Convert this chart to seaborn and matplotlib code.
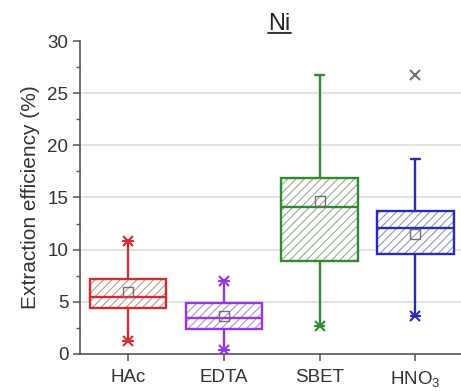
import numpy as np
import pandas as pd
import matplotlib
matplotlib.use("Agg")
import matplotlib.pyplot as plt
from matplotlib.colors import to_rgb
from matplotlib.patches import PathPatch
from matplotlib.lines import Line2D
import seaborn as sns

# Datos (eficiencia de extracción de Ni, %)
grupos = ["HAc", "EDTA", "SBET", "HNO3"]
etiquetas = ["HAc", "EDTA", "SBET", "HNO$_3$"]
colores = ["#d92b2f", "#9a33e6", "#2e8b2e", "#2a2ab8"]

# resumen de cinco números: bigote inf., Q1, mediana, Q3, bigote sup.
resumen_hac = [1.2, 4.4, 5.5, 7.2, 10.8]
resumen_edta = [0.4, 2.4, 3.45, 4.9, 6.95]
resumen_sbet = [2.7, 8.95, 14.1, 16.85, 26.75]
resumen_hno3 = [3.6, 9.6, 12.05, 13.7, 18.65]
medias = [5.9, 3.6, 14.65, 11.5]

# marcas "x" (1% / 99%) en cada grupo
extremos = {"HAc": [1.2, 10.8], "EDTA": [0.4, 6.95], "SBET": [2.7], "HNO3": [3.6]}
atipico_hno3 = [26.7]

df = pd.DataFrame({
    "grupo": np.repeat(grupos, 5),
    "valor": resumen_hac + resumen_edta + resumen_sbet + resumen_hno3,
})

sns.set_style("white")
plt.rcParams["font.family"] = ["Liberation Sans", "DejaVu Sans"]
plt.rcParams["mathtext.fontset"] = "custom"
plt.rcParams["mathtext.rm"] = "Liberation Sans"
plt.rcParams["mathtext.it"] = "Liberation Sans:italic"
plt.rcParams["hatch.linewidth"] = 0.7

fig = plt.figure(figsize=(4.61, 3.91), dpi=100)
ax = fig.add_axes([0.174, 0.095, 0.831, 0.80])

for g, c in zip(grupos, colores):
    sns.boxplot(data=df[df["grupo"] == g], x="grupo", y="valor", order=grupos,
                color="white", linecolor=c, linewidth=1.7, width=0.8,
                whis=(0, 100), saturation=1, capwidths=0.1, ax=ax, zorder=3)

for ln in ax.lines:
    ln.set_zorder(5)

# rayado gris (ligeramente teñido) dentro de las cajas
for p, c in zip(list(ax.patches), colores):
    tinte = 0.25 * np.array(to_rgb(c)) + 0.75 * np.array(to_rgb("#a8a8a8"))
    capa = PathPatch(p.get_path(), transform=p.get_transform(), facecolor="none",
                     edgecolor=tinte, linewidth=0, hatch="////", zorder=3.2)
    fondo = PathPatch(p.get_path(), transform=p.get_transform(), facecolor="white",
                      edgecolor="none", zorder=3.0)
    ax.add_patch(fondo)
    ax.add_patch(capa)
    p.set_facecolor("none")
    p.set_zorder(4)

sns.pointplot(x=grupos, y=medias, order=grupos, linestyle="none", marker="s",
              color="#707070", markerfacecolor="none", markersize=7,
              markeredgewidth=1.0, ax=ax, zorder=6)

for i, (g, c) in enumerate(zip(grupos, colores)):
    ys = extremos[g]
    ax.plot([i] * len(ys), ys, "x", color=c, markersize=7, markeredgewidth=1.5, zorder=7)
ax.plot([3] * len(atipico_hno3), atipico_hno3, "x", color="#707070",
        markersize=7, markeredgewidth=1.5, zorder=7)

ax.set_xlim(-0.5, 3.5)
ax.set_ylim(0, 30)
ax.set_yticks(np.arange(0, 31, 5))
ax.set_yticks(np.arange(0, 31, 2.5), minor=True)
ax.set_xticks(range(len(grupos)))
ax.set_xticklabels(etiquetas)
ax.set_xlabel("")
ax.set_ylabel("Extraction efficiency (%)", fontsize=15, color="#333333", labelpad=5)
titulo = ax.set_title("Ni", fontsize=17, color="#222222", x=0.52, pad=8)

ax.grid(axis="y", color="#dddddd", linewidth=1.2, zorder=0)
ax.set_axisbelow(True)
ax.get_ygridlines()[-1].set_visible(False)
ax.get_ygridlines()[0].set_visible(False)

for s in ["top", "right"]:
    ax.spines[s].set_visible(False)
for s in ["left", "bottom"]:
    ax.spines[s].set_color("#555555")
    ax.spines[s].set_linewidth(1.2)

ax.tick_params(axis="both", which="major", direction="out", length=5, width=1.1,
               color="#555555", labelsize=13.5, labelcolor="#333333",
               left=True, bottom=True)
ax.tick_params(axis="x", which="major", pad=6)
ax.tick_params(axis="y", which="minor", direction="out", length=3, width=1.0,
               color="#555555", left=True)

# subrayado del título
fig.canvas.draw()
bb = titulo.get_window_extent().transformed(fig.transFigure.inverted())
fig.add_artist(Line2D([bb.x0, bb.x1], [bb.y0 + 0.004, bb.y0 + 0.004],
                      color="#222222", linewidth=1.3, transform=fig.transFigure))

fig.savefig("out.png", dpi=100)
